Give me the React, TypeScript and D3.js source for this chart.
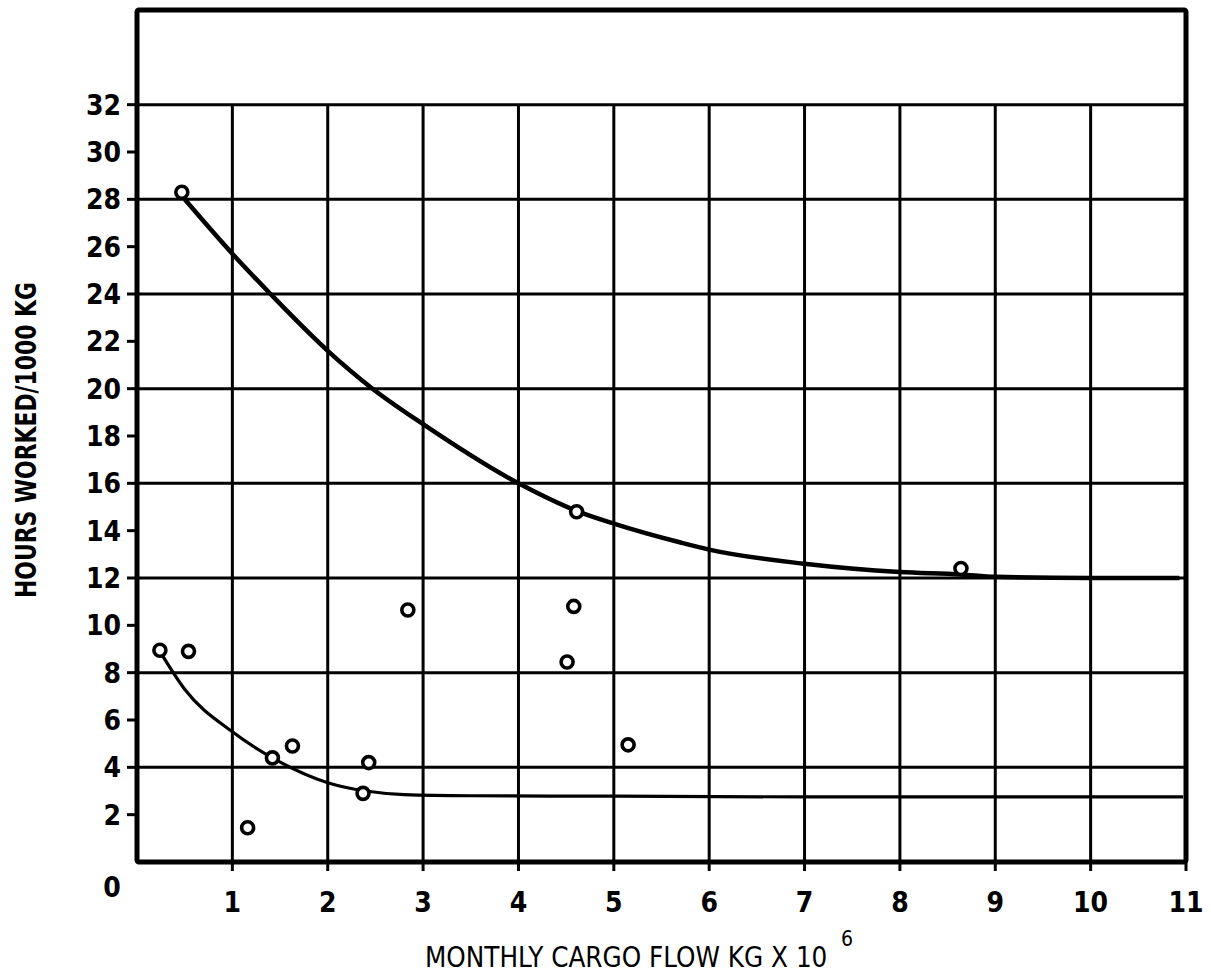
import React from 'react'
import * as d3 from 'd3'

// observed points (x = monthly cargo flow kg x 10^6, y = hours worked / 1000 kg)
const pointsX = [0.47, 4.61, 8.64, 0.24, 0.54, 1.16, 1.42, 1.63, 2.43, 2.37, 2.84, 4.58, 4.51, 5.15]
const pointsY = [28.3, 14.8, 12.4, 8.95, 8.9, 1.45, 4.4, 4.9, 4.2, 2.9, 10.65, 10.8, 8.45, 4.95]

// hand-drawn fitted curves
const upperCurveX = [0.5, 1, 1.4, 2, 2.47, 3, 4, 4.6, 5, 5.7, 6, 7, 8, 8.64, 9, 10, 10.93]
const upperCurveY = [28.0, 25.7, 24.0, 21.6, 20.0, 18.5, 16.0, 14.85, 14.3, 13.5, 13.2, 12.6, 12.25, 12.15, 12.05, 12.0, 12.0]
const lowerCurveX = [0.24, 0.5, 1, 1.42, 2, 2.4, 2.8, 3.5, 5, 7, 9, 10.97]
const lowerCurveY = [8.9, 7.3, 5.5, 4.4, 3.35, 3.0, 2.85, 2.8, 2.78, 2.75, 2.75, 2.75]

const xTicks = [1, 2, 3, 4, 5, 6, 7, 8, 9, 10, 11]
const xGrid = [1, 2, 3, 4, 5, 6, 7, 8, 9, 10]
const yTicks = [2, 4, 6, 8, 10, 12, 14, 16, 18, 20, 22, 24, 26, 28, 30, 32]
const yGrid = [4, 8, 12, 16, 20, 24, 28, 32]

const W = 1211
const H = 979
const font = '"DejaVu Sans Condensed", "DejaVu Sans", sans-serif'

export default function App() {
  const x = d3.scaleLinear().domain([0, 11]).range([137, 1186])
  const y = d3.scaleLinear().domain([0, 36]).range([862, 10])

  const line = d3
    .line<[number, number]>()
    .x(d => x(d[0]))
    .y(d => y(d[1]))
    .curve(d3.curveMonotoneX)

  const upper = line(upperCurveX.map((v, i) => [v, upperCurveY[i]]) as [number, number][]) || ''
  const lower = line(lowerCurveX.map((v, i) => [v, lowerCurveY[i]]) as [number, number][]) || ''

  return (
    <div style={{ position: 'absolute', left: 0, top: 0 }}>
      <svg width={W} height={H} style={{ display: 'block', background: '#fff' }}>
        {/* grid */}
        {yGrid.map(v => (
          <line key={'hy' + v} x1={x(0)} x2={x(11)} y1={y(v)} y2={y(v)} stroke="#000" strokeWidth={3} />
        ))}
        {xGrid.map(v => (
          <line key={'vx' + v} x1={x(v)} x2={x(v)} y1={y(32)} y2={y(0)} stroke="#000" strokeWidth={3} />
        ))}

        {/* frame */}
        <rect x={x(0)} y={y(36)} width={x(11) - x(0)} height={y(0) - y(36)} fill="none" stroke="#000" strokeWidth={5} rx={2} />

        {/* y ticks */}
        {yTicks.map(v => (
          <g key={'yt' + v}>
            <line x1={x(0) - 10} x2={x(0)} y1={y(v)} y2={y(v)} stroke="#000" strokeWidth={3} />
            <text x={121} y={y(v)} dy="0.36em" textAnchor="end" fontFamily={font} fontWeight="bold" fontSize={28}>
              {v}
            </text>
          </g>
        ))}
        <text x={112} y={887} dy="0.36em" textAnchor="middle" fontFamily={font} fontWeight="bold" fontSize={28}>
          0
        </text>

        {/* x ticks */}
        {xTicks.map(v => (
          <g key={'xt' + v}>
            <line x1={x(v)} x2={x(v)} y1={y(0)} y2={y(0) + 9} stroke="#000" strokeWidth={3} />
            <text x={x(v)} y={902} dy="0.36em" textAnchor="middle" fontFamily={font} fontWeight="bold" fontSize={28}>
              {v}
            </text>
          </g>
        ))}

        {/* curves */}
        <path d={upper} fill="none" stroke="#000" strokeWidth={4.5} />
        <path d={lower} fill="none" stroke="#000" strokeWidth={3.2} />

        {/* points */}
        {pointsX.map((v, i) => (
          <circle key={'p' + i} cx={x(v)} cy={y(pointsY[i])} r={6} fill="#fff" stroke="#000" strokeWidth={3.6} />
        ))}

        {/* axis titles */}
        <text x={425} y={967} fontFamily={font} fontSize={27.5}>
          MONTHLY CARGO FLOW KG X 10
        </text>
        <text x={841} y={946} fontFamily={font} fontSize={21}>
          6
        </text>
        <text
          transform={`translate(36,440) rotate(-90)`}
          textAnchor="middle"
          fontFamily={font}
          fontSize={28}
          fontWeight="bold"
          textLength={316}
          lengthAdjust="spacingAndGlyphs"
        >
          HOURS WORKED/1000 KG
        </text>
      </svg>
    </div>
  )
}
